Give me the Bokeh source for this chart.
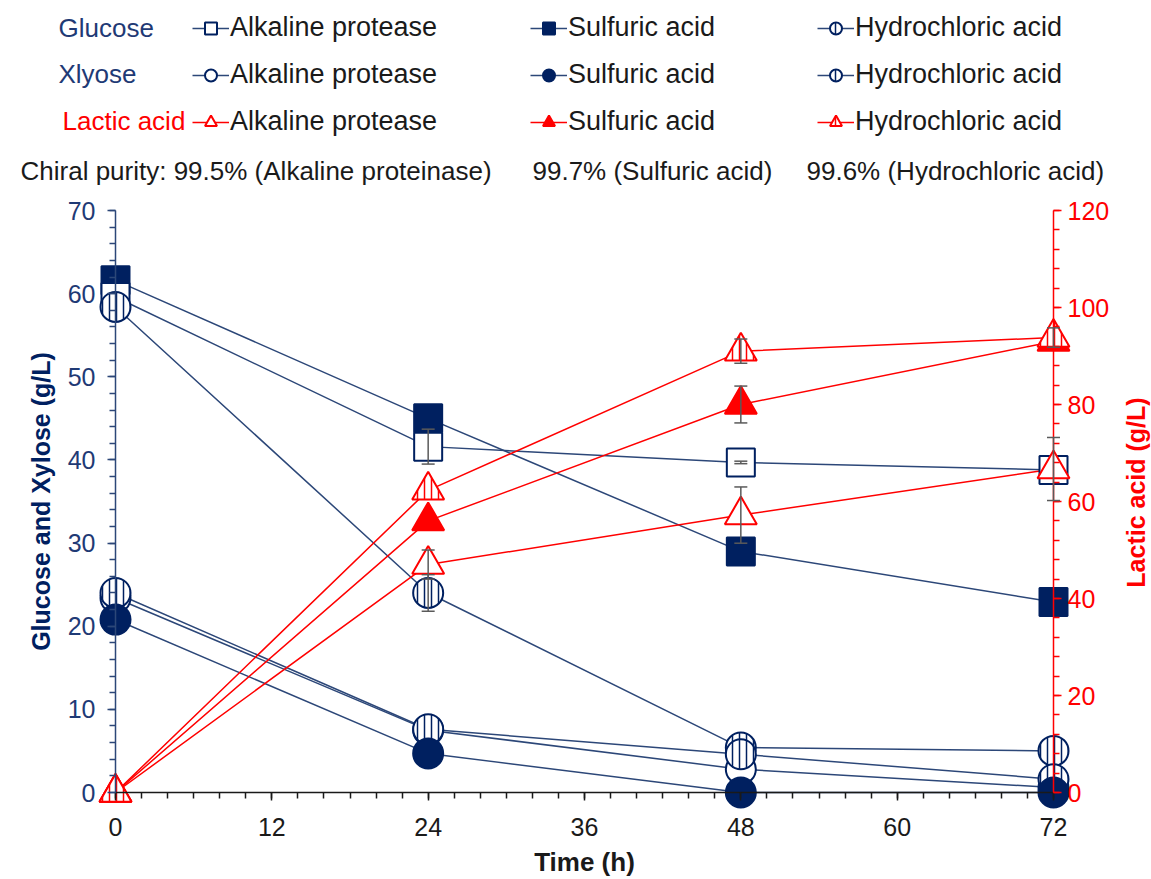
import math
from bokeh.plotting import figure
from bokeh.models import (Range1d, LinearAxis, SingleIntervalTicker, Legend, LegendItem,
                          Label, Whisker, TeeHead, ColumnDataSource)
from bokeh.embed import file_html
from bokeh.resources import INLINE

# ---------------- data ----------------
time_h = [0, 24, 48, 72]

glucose_alkaline = [59.6, 41.6, 39.7, 38.8]
glucose_sulfuric = [61.6, 45.0, 29.0, 22.9]
glucose_hydrochloric = [58.4, 24.0, 5.4, 5.0]

xylose_alkaline = [23.4, 7.5, 2.8, 0.6]
xylose_sulfuric = [20.8, 4.7, 0.0, 0.0]
xylose_hydrochloric = [24.0, 7.6, 4.6, 1.6]

lactic_alkaline = [0.0, 47.0, 57.2, 66.7]
lactic_sulfuric = [0.0, 56.0, 80.0, 93.0]
lactic_hydrochloric = [0.0, 62.3, 91.0, 93.8]

glucose_alkaline_err = [0, 2.1, 0.15, 0]
glucose_hydrochloric_err = [0, 2.2, 0, 0]
lactic_alkaline_err = [0, 3.0, 5.8, 6.5]
lactic_sulfuric_err = [0, 0, 3.8, 0]
lactic_hydrochloric_err = [0, 0, 2.5, 2.0]

method_labels = ["Alkaline protease", "Sulfuric acid", "Hydrochloric acid"]
row_labels = ["Glucose", "Xlyose", "Lactic acid"]
purity_texts = ["Chiral purity: 99.5% (Alkaline proteinase)",
                "99.7% (Sulfuric acid)",
                "99.6% (Hydrochloric acid)"]

# ---------------- styling / layout ----------------
FONT = "Liberation Sans"
NAVY = "#002060"
NAVY_LINE = "#2C4778"
NAVY_TEXT = "#1F3A75"
RED = "#FF0000"
GREY = "#5A5A5A"

W, H = 1151, 879
# pixel positions of the axis corners (x: 0 -> 72 h, left y: 0 -> 70 g/L)
PX0, PX1 = 115.0, 1053.0
PY0, PY1 = 792.0, 210.0
SX = (PX1 - PX0) / 72.0
SY = (PY0 - PY1) / 70.0
LAC = 120.0 / 70.0

x_start, x_end = -PX0 / SX, (W - PX0) / SX
y_start, y_end = -(H - PY0) / SY, PY0 / SY

p = figure(width=W, height=H, output_backend="svg", toolbar_location=None,
           x_range=Range1d(x_start, x_end), y_range=Range1d(y_start, y_end),
           x_axis_type=None, y_axis_type=None,
           min_border_left=0, min_border_right=0, min_border_top=0, min_border_bottom=0)
p.outline_line_color = None
p.background_fill_color = "white"
p.border_fill_color = "white"
p.extra_y_ranges = {"lactic": Range1d(y_start * LAC, y_end * LAC)}

# ---------------- axes ----------------
def style_axis(ax, color, label_color, title_color):
    ax.axis_line_color = color
    ax.axis_line_width = 1.5
    ax.major_tick_line_color = color
    ax.minor_tick_line_color = color
    ax.major_tick_line_width = 1.5
    ax.minor_tick_line_width = 1.5
    ax.major_tick_in = 0
    ax.major_tick_out = 8
    ax.minor_tick_in = 0
    ax.minor_tick_out = 6
    ax.major_label_text_font = FONT
    ax.major_label_text_font_size = "25px"
    ax.major_label_text_color = label_color
    ax.axis_label_text_font = FONT
    ax.axis_label_text_font_style = "bold"
    ax.axis_label_text_color = title_color

yl = LinearAxis(ticker=SingleIntervalTicker(interval=10, num_minor_ticks=5),
                bounds=(0, 70), fixed_location=0,
                axis_label="Glucose and Xylose (g/L)")
style_axis(yl, NAVY_LINE, NAVY_TEXT, NAVY)
yl.axis_label_text_font_size = "25px"
yl.major_label_standoff = 12
yl.axis_label_standoff = 10
p.add_layout(yl, "left")

yr = LinearAxis(y_range_name="lactic",
                ticker=SingleIntervalTicker(interval=20, num_minor_ticks=5),
                bounds=(0, 120), fixed_location=72)
style_axis(yr, RED, RED, RED)
yr.major_label_standoff = 6
p.add_layout(yr, "right")

# right axis title, reading bottom to top
p.add_layout(Label(x=1135, y=H - 492, x_units="screen", y_units="screen",
                   text="Lactic acid (g/L)", angle=math.pi / 2,
                   text_color=RED, text_font=FONT, text_font_size="25px",
                   text_font_style="bold", text_align="center", text_baseline="middle"))

xa = LinearAxis(ticker=SingleIntervalTicker(interval=12, num_minor_ticks=6),
                bounds=(0, 72), fixed_location=0, axis_label="Time (h)")
style_axis(xa, "#1A1A1A", "#1A1A1A", "#1A1A1A")
xa.axis_label_text_font_size = "26px"
xa.major_label_standoff = 17
xa.axis_label_standoff = 8
p.add_layout(xa, "below")

# ---------------- lines ----------------
def add_line(ys, color, rng=None):
    kw = dict(line_color=color, line_width=1.5)
    if rng:
        kw["y_range_name"] = rng
    return p.line(time_h, ys, **kw)

l_ga = add_line(glucose_alkaline, NAVY_LINE)
l_gs = add_line(glucose_sulfuric, NAVY_LINE)
l_gh = add_line(glucose_hydrochloric, NAVY_LINE)
l_xa = add_line(xylose_alkaline, NAVY_LINE)
l_xs = add_line(xylose_sulfuric, NAVY_LINE)
l_xh = add_line(xylose_hydrochloric, NAVY_LINE)
l_la = add_line(lactic_alkaline, RED, "lactic")
l_ls = add_line(lactic_sulfuric, RED, "lactic")
l_lh = add_line(lactic_hydrochloric, RED, "lactic")

# ---------------- markers ----------------
def add_marker(ys, marker, size, edge, fill, hatch=False, rng=None):
    kw = dict(marker=marker, size=size, line_color=edge, line_width=2, fill_color=fill)
    if hatch:
        kw.update(hatch_pattern="vertical_line", hatch_color=edge, hatch_scale=7, hatch_weight=1.5)
    if rng:
        kw["y_range_name"] = rng
    return p.scatter(time_h, ys, **kw)

m_gs = add_marker(glucose_sulfuric, "square", 28, NAVY, NAVY)
m_ga = add_marker(glucose_alkaline, "square", 28, NAVY, "white")
m_gh = add_marker(glucose_hydrochloric, "circle", 30, NAVY, "white", hatch=True)
m_xa = add_marker(xylose_alkaline, "circle", 30, NAVY, "white")
m_xh = add_marker(xylose_hydrochloric, "circle", 30, NAVY, "white", hatch=True)
m_xs = add_marker(xylose_sulfuric, "circle", 30, NAVY, NAVY)
m_la = add_marker(lactic_alkaline, "triangle", 32, RED, "white", rng="lactic")
m_ls = add_marker(lactic_sulfuric, "triangle", 32, RED, RED, rng="lactic")
m_lh = add_marker(lactic_hydrochloric, "triangle", 32, RED, "white", hatch=True, rng="lactic")

# ---------------- error bars ----------------
def add_whiskers(ys, errs, rng=None):
    xs = [t for t, e in zip(time_h, errs) if e > 0]
    up = [y + e for y, e in zip(ys, errs) if e > 0]
    lo = [y - e for y, e in zip(ys, errs) if e > 0]
    src = ColumnDataSource(dict(base=xs, upper=up, lower=lo))
    w = Whisker(source=src, base="base", upper="upper", lower="lower", dimension="height",
                line_color=GREY, line_width=1.5, level="overlay",
                upper_head=TeeHead(size=13, line_color=GREY, line_width=1.5),
                lower_head=TeeHead(size=13, line_color=GREY, line_width=1.5))
    if rng:
        w.y_range_name = rng
    p.add_layout(w)

add_whiskers(glucose_alkaline, glucose_alkaline_err)
add_whiskers(glucose_hydrochloric, glucose_hydrochloric_err)
add_whiskers(lactic_alkaline, lactic_alkaline_err, "lactic")
add_whiskers(lactic_sulfuric, lactic_sulfuric_err, "lactic")
add_whiskers(lactic_hydrochloric, lactic_hydrochloric_err, "lactic")

# ---------------- legend ----------------
LEG_TOP = 15
ROW_H = 30
ROW_GAP = 16
LEG_H = 3 * ROW_H + 2 * ROW_GAP

columns = [
    (192, [l_ga, m_ga], [l_xa, m_xa], [l_la, m_la]),
    (530, [l_gs, m_gs], [l_xs, m_xs], [l_ls, m_ls]),
    (817, [l_gh, m_gh], [l_xh, m_xh], [l_lh, m_lh]),
]
for ci, (x0, r1, r2, r3) in enumerate(columns):
    items = [LegendItem(label=method_labels[ci], renderers=r) for r in (r1, r2, r3)]
    lg = Legend(items=items, location=(x0, H - LEG_TOP - LEG_H),
                orientation="vertical", padding=0, margin=0, spacing=ROW_GAP,
                glyph_width=37, glyph_height=ROW_H, label_height=ROW_H, label_standoff=1,
                label_text_font=FONT, label_text_font_size="27px",
                label_text_color="#1A1A1A", border_line_color=None,
                background_fill_alpha=0)
    p.add_layout(lg)

row_colors = [NAVY_TEXT, NAVY_TEXT, RED]
row_x = [58, 58, 62]
row_y = [27, 73, 120]
for txt, col, x, y in zip(row_labels, row_colors, row_x, row_y):
    p.add_layout(Label(x=x, y=H - y, x_units="screen", y_units="screen",
                       text=txt, text_color=col, text_font=FONT, text_font_size="26px",
                       text_baseline="middle", text_align="left"))

purity_x = [20, 532, 806]
for txt, x in zip(purity_texts, purity_x):
    p.add_layout(Label(x=x, y=H - 170, x_units="screen", y_units="screen",
                       text=txt, text_color="#1A1A1A", text_font=FONT, text_font_size="26px",
                       text_baseline="middle", text_align="left"))

open("out.html", "w").write(file_html(p, INLINE))
